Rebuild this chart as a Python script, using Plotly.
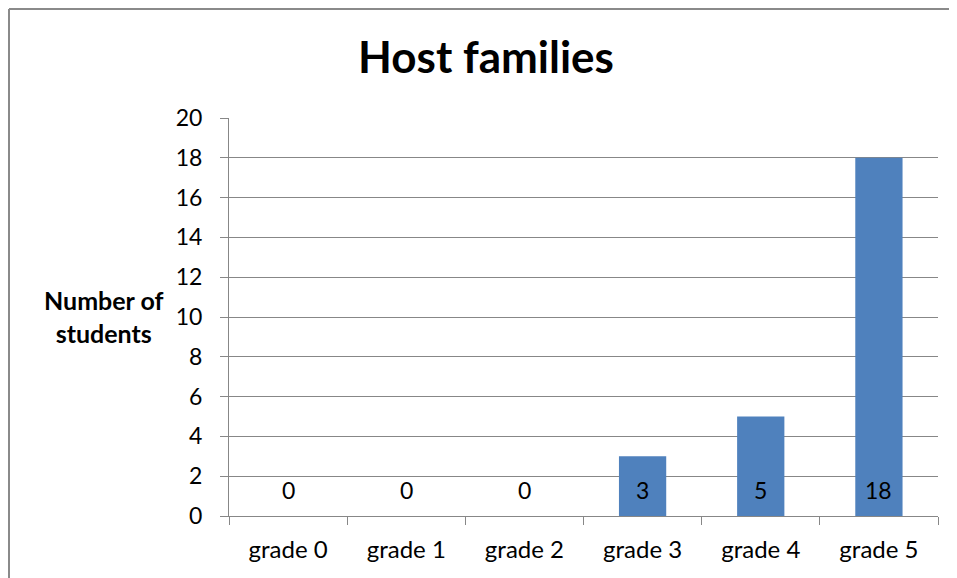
import plotly.graph_objects as go

categories = ["grade 0", "grade 1", "grade 2", "grade 3", "grade 4", "grade 5"]
values = [0, 0, 0, 3, 5, 18]
y_ticks = [0, 2, 4, 6, 8, 10, 12, 14, 16, 18, 20]

FONT = "Lato, Open Sans, sans-serif"
GRID = "#878787"

fig = go.Figure()
fig.add_trace(go.Bar(
    x=categories, y=values,
    marker=dict(color="#4F81BD", line=dict(width=0)),
    hoverinfo="x+y",
))

for c, v in zip(categories, values):
    fig.add_annotation(x=c, y=0, yshift=26, text=str(v), showarrow=False,
                       font=dict(family=FONT, size=23, color="black"),
                       xref="x", yref="y")

fig.add_annotation(x=-0.177, y=0.5025, xref="paper", yref="paper",
                   text="<b>Number of<br>students</b>", showarrow=False,
                   font=dict(family=FONT, size=25, color="black"),
                   align="center", xanchor="center", yanchor="middle")

# outer chart border (left and top)
fig.add_shape(type="line", xref="paper", yref="paper",
              x0=-0.3103, x1=-0.3103, y0=-0.2, y1=1.274,
              line=dict(color="#8A8A8A", width=2))
fig.add_shape(type="line", xref="paper", yref="paper",
              x0=-0.3103, x1=1.1, y0=1.274, y1=1.274,
              line=dict(color="#8A8A8A", width=2))

fig.update_layout(
    width=949, height=570,
    margin=dict(l=221, r=19, t=110, b=62),
    paper_bgcolor="white", plot_bgcolor="white",
    bargap=0.6,
    showlegend=False,
    title=dict(text="<b>Host families</b>", x=0.5037, xanchor="center",
               y=0.9123, yanchor="middle",
               font=dict(family=FONT, size=44, color="black")),
    font=dict(family=FONT, color="black"),
)
fig.update_xaxes(
    showline=True, linecolor=GRID, linewidth=1,
    ticks="outside", tickson="boundaries", ticklen=8, tickcolor=GRID,
    tickfont=dict(family=FONT, size=24, color="black"),
    showgrid=False, ticklabelstandoff=12,
)
fig.update_yaxes(
    range=[0, 20], tickvals=y_ticks,
    showline=True, linecolor=GRID, linewidth=1,
    ticks="outside", ticklen=8, tickcolor=GRID,
    showgrid=True, gridcolor=GRID, gridwidth=1,
    zeroline=False,
    tickfont=dict(family=FONT, size=23, color="black"),
    ticklabelstandoff=13,
)

fig.write_html("out.html")
